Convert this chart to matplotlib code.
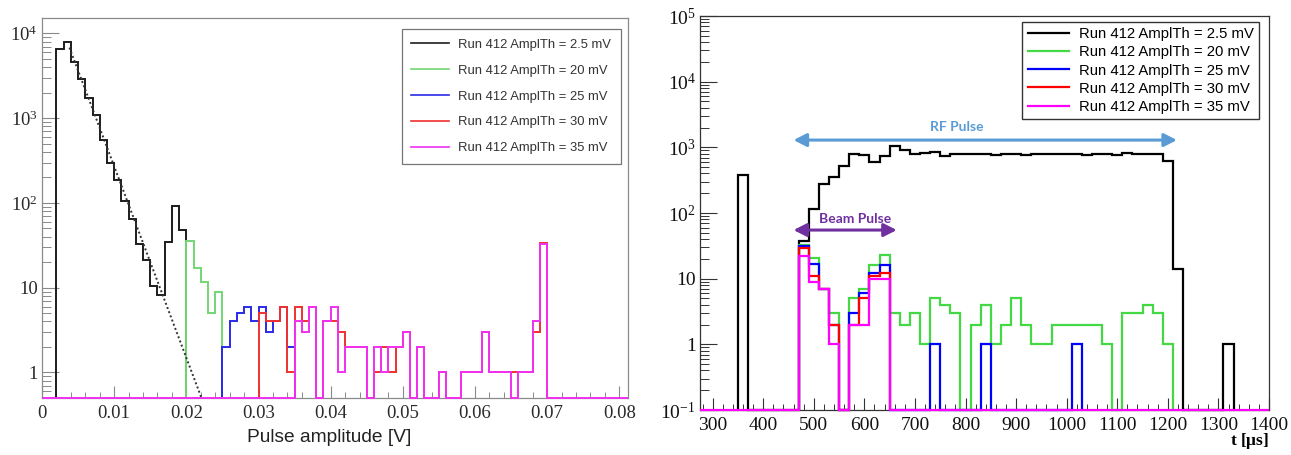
import numpy as np
import matplotlib
matplotlib.use("Agg")
import matplotlib.pyplot as plt
from matplotlib.lines import Line2D
from matplotlib.ticker import MultipleLocator, FuncFormatter, NullFormatter, LogLocator

plt.rcParams["font.family"] = "Liberation Serif"
plt.rcParams["mathtext.fontset"] = "custom"
plt.rcParams["mathtext.rm"] = "Liberation Serif"

# ---------------- pulse amplitude spectra (1 mV bins) ----------------
AMP_BIN = 0.001
amp_black_start = 0.002
amp_black = [6530, 7970, 4540, 2890, 1740, 1085, 550, 297, 185, 105,
             65, 33, 21, 10.4, 8.1, 34.6, 91.5, 48.4]
amp_green_start = 0.020
amp_green = [36, 17, 11.8, 5, 8.8]
amp_blue_start = 0.025
amp_blue = [2, 4, 5, 6, 4, 6, 3, 4, 6, 2]
amp_red_start = 0.030
amp_red = [5, 4, 4, 6, 1, 6, 4, 6, 0, 4,
           4, 3, 2, 2, 2, 0, 1, 2, 1, 2,
           3, 0, 2, 0, 0, 1, 0, 0, 1, 1,
           1, 3, 1, 1, 1, 1, 1, 1, 3, 34]
amp_magenta_start = 0.035
amp_magenta = [4, 3, 6, 0, 4, 6, 1, 2, 2, 2,
               0, 2, 1, 2, 2, 3, 0, 2, 0, 0,
               1, 0, 0, 1, 1, 1, 3, 1, 1, 1,
               0, 1, 1, 4, 33]

# exponential fit of the low-amplitude tail (straight on a log axis)
fit_amp = [0.0038, 0.0221]
fit_counts = [6800, 0.5]

# ---------------- arrival time spectra (20 us bins) ----------------
T_BIN = 20
t_black_start = 350
t_black = [380, 0, 0, 0, 0, 0,
           37, 117, 275, 355, 520, 785, 760, 600, 730, 1030,
           920, 785, 830, 850, 735, 805, 800, 790, 780, 770,
           790, 805, 760, 790, 800, 800, 780, 790, 760, 790,
           800, 770, 820, 790, 780, 800, 620, 14,
           0, 0, 0, 0, 1]
t_green_start = 470
t_green = [33, 21, 7, 3, 0, 5, 7, 16, 23, 3,
           2, 3, 1, 5, 4, 3, 0, 2, 4, 1,
           2, 5, 2, 1, 1, 2, 2, 2, 2, 2,
           1, 0, 3, 3, 4, 3, 1]
t_blue_start = 470
t_blue = [31, 17, 7, 2, 0, 3, 6, 12, 16, 0,
          0, 0, 0, 1, 0, 0, 0, 0, 1, 0,
          0, 0, 0, 0, 0, 0, 0, 1]
t_red_start = 470
t_red = [29, 11, 7, 2, 0, 2, 5, 11, 12]
t_magenta_start = 470
t_magenta = [22, 9, 7, 1, 0, 2, 2, 10, 10]

labels = ["Run 412 AmplTh = 2.5 mV", "Run 412 AmplTh = 20 mV",
          "Run 412 AmplTh = 25 mV", "Run 412 AmplTh = 30 mV",
          "Run 412 AmplTh = 35 mV"]
colors_amp = ["#1c1c1c", "#72d672", "#2a2ae8", "#f03030", "#f030f0"]
colors_t = ["#000000", "#44d844", "#0000ff", "#ff0000", "#ff00ff"]

rf_pulse = (460, 1218)
beam_pulse = (460, 664)

AMP_LIM = (0, 0.0812)
AMP_FLOOR = 0.5
T_LIM = (275, 1400)
T_FLOOR = 0.1


def draw_hist(ax, start, width, counts, floor, color, lw, full=None):
    """Step histogram; empty bins sit on the bottom of the frame."""
    counts = np.asarray(counts, dtype=float)
    edges = start + width * np.arange(len(counts) + 1)
    vals = np.where(counts > 0, counts, floor)
    if full is not None:
        edges = np.concatenate([[full[0]], edges, [full[1]]])
        vals = np.concatenate([[floor], vals, [floor]])
    ax.stairs(vals, edges, baseline=floor, color=color, lw=lw,
              clip_on=False, zorder=3)


def style_log_axis(ax, frame, ylen, xlen):
    for s in ax.spines.values():
        s.set_color(frame)
        s.set_linewidth(0.9)
    ax.tick_params(which="both", direction="in", top=False, right=False,
                   color=frame)
    ax.tick_params(axis="y", which="major", length=ylen[0], width=0.8, pad=3)
    ax.tick_params(axis="y", which="minor", length=ylen[1], width=0.7)
    ax.tick_params(axis="x", which="major", length=xlen[0], width=0.8, pad=5)
    ax.tick_params(axis="x", which="minor", length=xlen[1], width=0.7)
    ax.yaxis.set_minor_locator(LogLocator(base=10, subs=np.arange(2, 10)))
    ax.yaxis.set_minor_formatter(NullFormatter())


def log_label(v):
    if v == 1:
        return "1"
    if v == 10:
        return "10"
    return r"$\mathregular{10^{%d}}$" % round(np.log10(v))


fig = plt.figure(figsize=(12.91, 4.55), dpi=100)

# ---------------- left: pulse amplitude ----------------
ax1 = fig.add_axes([42 / 1291, 57 / 455, 586 / 1291, 380 / 455])
ax1.set_yscale("log")
amp_sets = [(amp_black_start, amp_black), (amp_green_start, amp_green),
            (amp_blue_start, amp_blue), (amp_red_start, amp_red),
            (amp_magenta_start, amp_magenta)]
for i, (start, counts) in enumerate(amp_sets):
    full = AMP_LIM if i == 4 else None
    draw_hist(ax1, start, AMP_BIN, counts, AMP_FLOOR, colors_amp[i], 1.4, full)
ax1.plot(fit_amp, fit_counts, color="#333333", lw=1.4,
         linestyle=(0, (1, 1.3)), zorder=4)
ax1.set_xlim(*AMP_LIM)
ax1.set_ylim(AMP_FLOOR, 1.52e4)
ax1.xaxis.set_major_locator(MultipleLocator(0.01))
ax1.xaxis.set_minor_locator(MultipleLocator(0.002))
ax1.xaxis.set_major_formatter(FuncFormatter(lambda v, p: "%g" % round(v, 3)))
yt1 = [1, 10, 100, 1000, 10000]
ax1.set_yticks(yt1, [log_label(v) for v in yt1])
style_log_axis(ax1, "#8a8a8a", (12.5, 6.5), (8.5, 4))
ax1.tick_params(labelsize=13.5, labelcolor="#2a2a2a")
ax1.text(0.49, -0.103, "Pulse amplitude [V]", transform=ax1.transAxes,
         ha="center", va="center", fontsize=13.8, color="#222222",
         family="Liberation Sans")
handles1 = [Line2D([], [], color=c, lw=1.2) for c in colors_amp]
leg1 = ax1.legend(handles1, labels, loc="upper right",
                  bbox_to_anchor=(0.988, 0.971), borderaxespad=0,
                  fancybox=False, edgecolor="#777777", framealpha=1,
                  prop={"family": "Liberation Sans", "size": 9.4},
                  labelcolor="#333333", handlelength=2.9, handletextpad=0.7,
                  labelspacing=1.05, borderpad=0.75)
leg1.get_frame().set_linewidth(0.9)

# ---------------- right: arrival time ----------------
ax2 = fig.add_axes([700 / 1291, 45 / 455, 569 / 1291, 394 / 455])
ax2.set_yscale("log")
t_sets = [(t_black_start, t_black), (t_green_start, t_green),
          (t_blue_start, t_blue), (t_red_start, t_red),
          (t_magenta_start, t_magenta)]
for i, (start, counts) in enumerate(t_sets):
    full = T_LIM if i == 4 else None
    draw_hist(ax2, start, T_BIN, counts, T_FLOOR, colors_t[i], 1.6, full)
ax2.set_xlim(*T_LIM)
ax2.set_ylim(T_FLOOR, 1e5)
ax2.xaxis.set_major_locator(MultipleLocator(100))
ax2.xaxis.set_minor_locator(MultipleLocator(20))
yt2 = [0.1, 1, 10, 100, 1000, 10000, 100000]
ax2.set_yticks(yt2, [log_label(v) for v in yt2])
style_log_axis(ax2, "#333333", (12, 6.5), (8.5, 4))
ax2.tick_params(labelsize=14, labelcolor="#111111")
ax2.text(1.0, -0.079, r"t [$\mathregular{\mu}$s]", transform=ax2.transAxes,
         ha="right", va="center", fontsize=12.5, fontweight="bold")
handles2 = [Line2D([], [], color=c, lw=1.6) for c in colors_t]
leg2 = ax2.legend(handles2, labels, loc="upper right",
                  bbox_to_anchor=(0.9824, 0.9848), borderaxespad=0,
                  fancybox=False, edgecolor="#333333", framealpha=1,
                  prop={"family": "Liberation Sans", "size": 10.7},
                  handlelength=2.8, handletextpad=0.65,
                  labelspacing=0.28, borderpad=0.35)
leg2.get_frame().set_linewidth(1.0)

# pulse timing markers
ax2.annotate("", xy=(rf_pulse[1], 1290), xytext=(rf_pulse[0], 1290),
             arrowprops=dict(arrowstyle="<|-|>,head_length=0.55,head_width=0.28",
                             color="#5b9bd5", lw=2.2, mutation_scale=14,
                             shrinkA=0, shrinkB=0), zorder=5)
ax2.text(783, 2050, "RF Pulse", color="#5b9bd5", fontsize=10,
         fontweight="bold", family="Lato", ha="center", va="center")
ax2.annotate("", xy=(beam_pulse[1], 55), xytext=(beam_pulse[0], 55),
             arrowprops=dict(arrowstyle="<|-|>,head_length=0.55,head_width=0.28",
                             color="#7030a0", lw=2.2, mutation_scale=14,
                             shrinkA=0, shrinkB=0), zorder=5)
ax2.text(581, 80, "Beam Pulse", color="#7030a0", fontsize=10,
         fontweight="bold", family="Lato", ha="center", va="center")

fig.savefig("out.png", dpi=100)
